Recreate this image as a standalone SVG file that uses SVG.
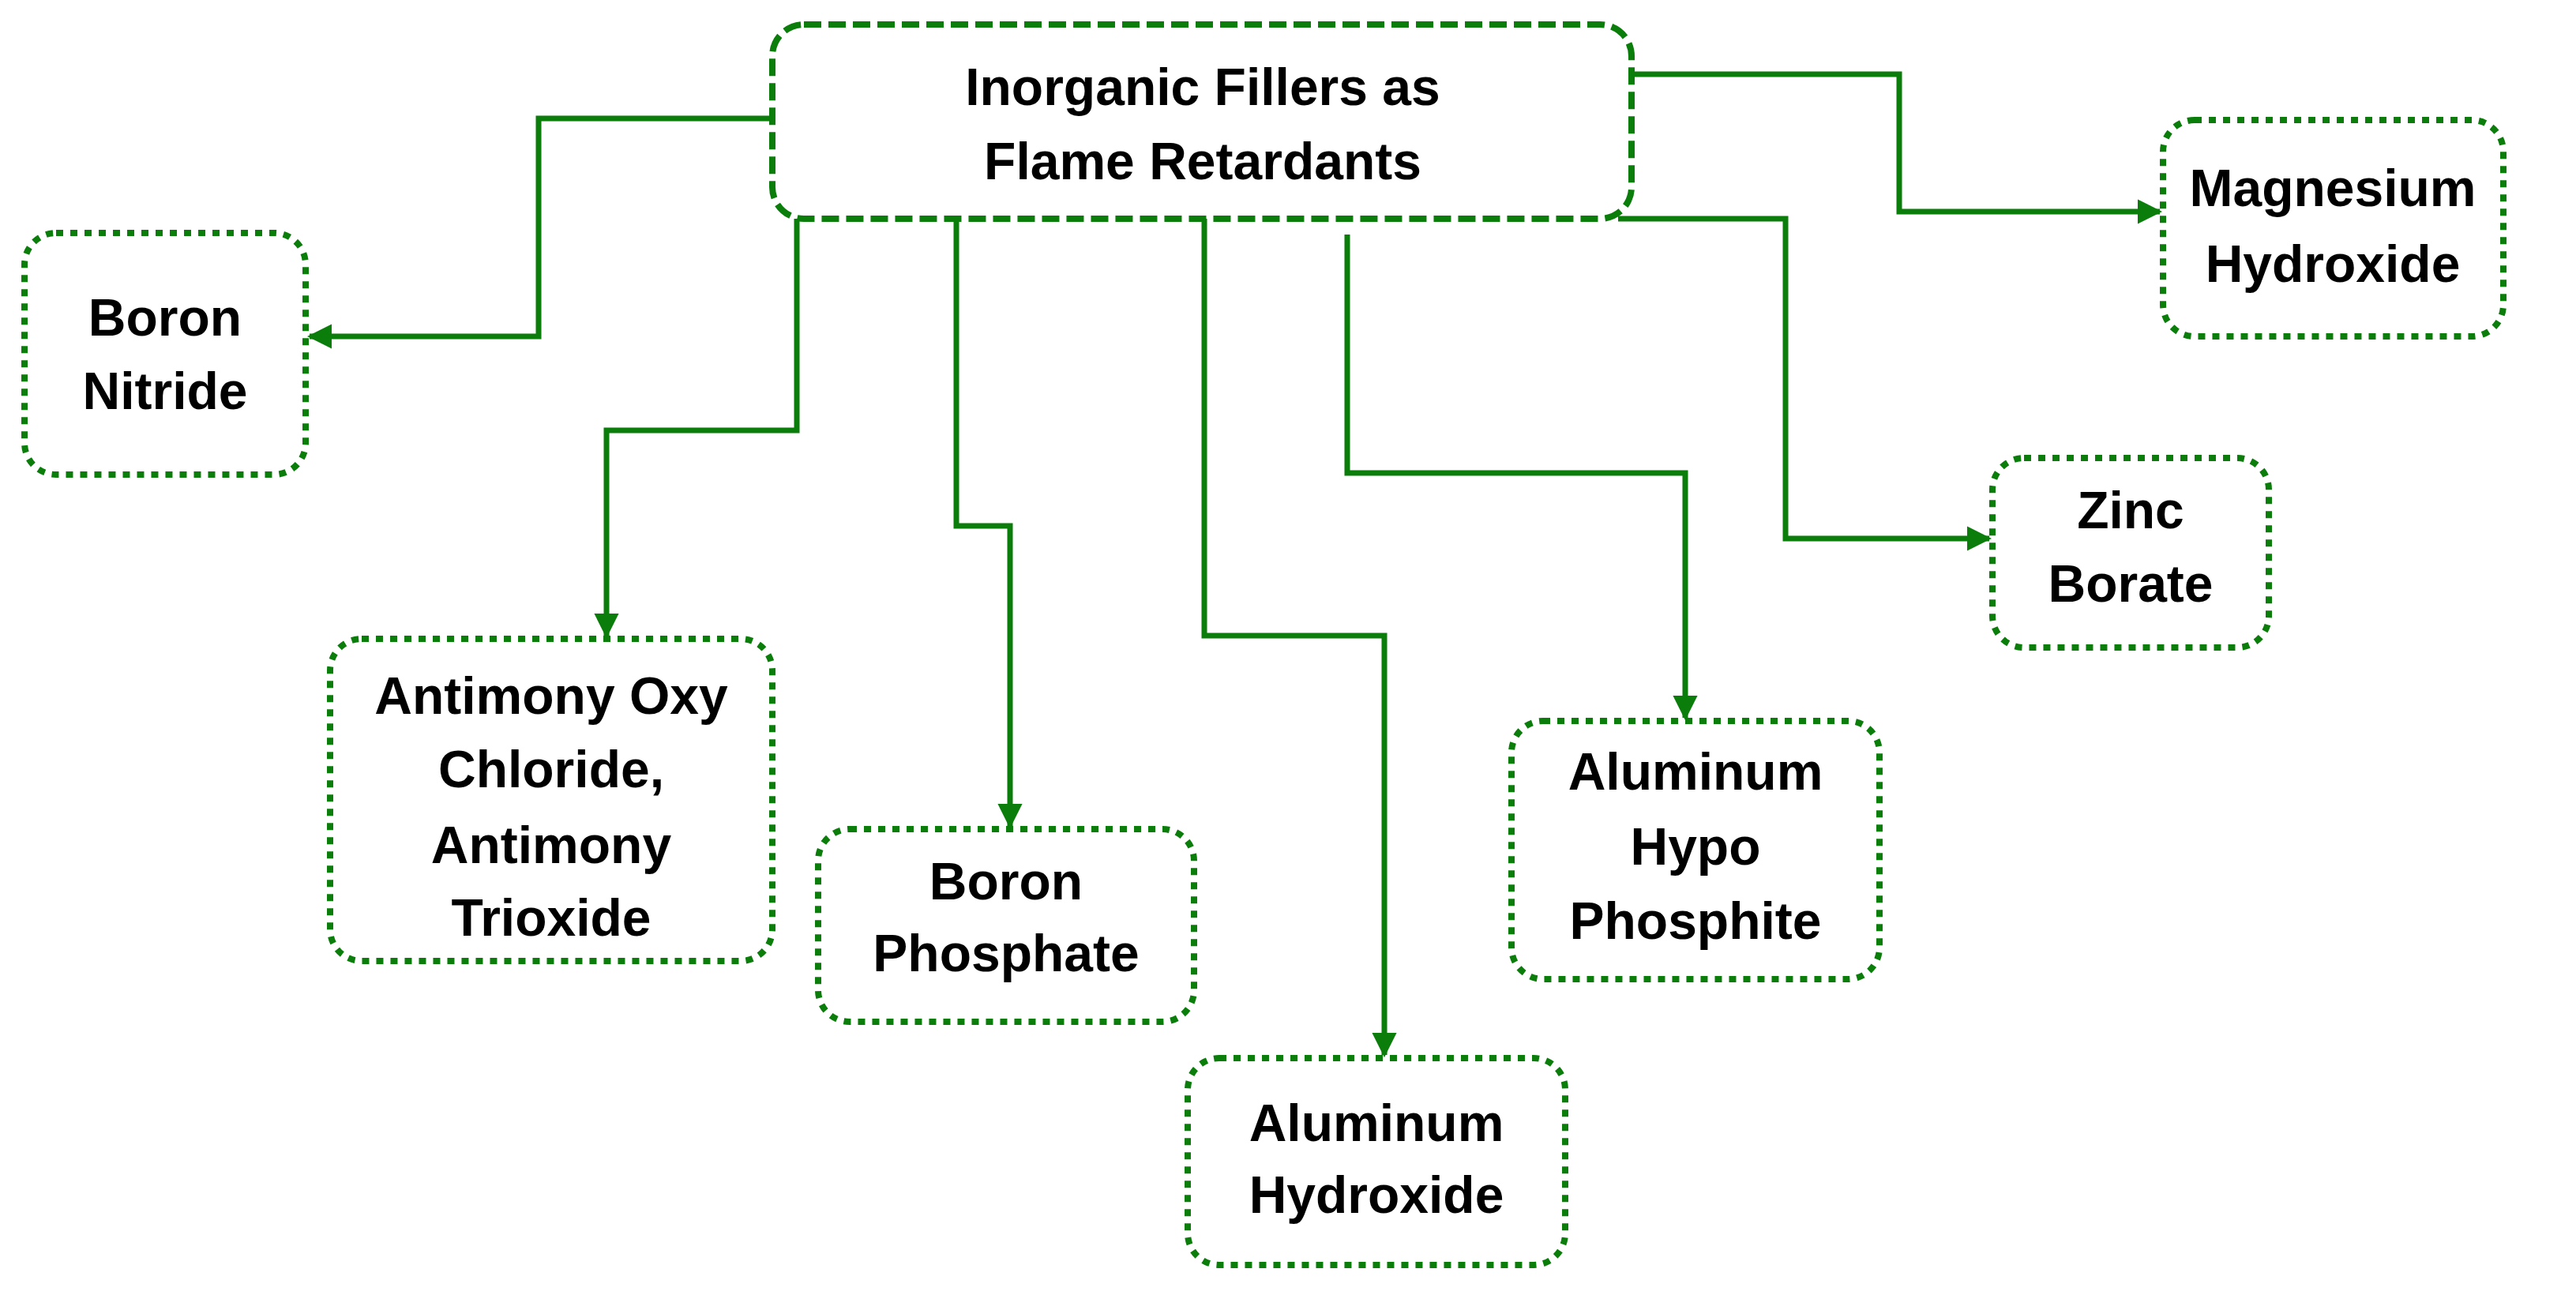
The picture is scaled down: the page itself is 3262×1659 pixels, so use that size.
<svg xmlns="http://www.w3.org/2000/svg" width="3262" height="1659" viewBox="0 0 3262 1659">
<style>
.main{fill:#fff;stroke:#0a7d0a;stroke-width:8;stroke-dasharray:22 9}
.box{fill:#fff;stroke:#0a7d0a;stroke-width:8;stroke-dasharray:9 9}
text{font-family:"Liberation Sans",Arial,sans-serif;font-weight:bold;font-size:66px;fill:#000;text-anchor:middle}
.c{fill:none;stroke:#0a7d0a;stroke-width:7}
</style>
<defs><marker id="a" viewBox="0 0 10 10" refX="9" refY="5" markerWidth="4.5" markerHeight="4.5" orient="auto" markerUnits="strokeWidth"><path d="M0,0L10,5L0,10z" fill="#0a7d0a"/></marker></defs>
<rect width="3262" height="1659" fill="#fff"/>
<g id="connectors">
<path class="c" marker-end="url(#a)" d="M978,150H682V426H392"/>
<path class="c" marker-end="url(#a)" d="M1009,277V545H768V805"/>
<path class="c" marker-end="url(#a)" d="M1211,277V666H1279V1046"/>
<path class="c" marker-end="url(#a)" d="M1525,277V805H1753V1336"/>
<path class="c" marker-end="url(#a)" d="M1706,297V599H2134V909"/>
<path class="c" marker-end="url(#a)" d="M2049,277H2261V682H2519"/>
<path class="c" marker-end="url(#a)" d="M2066,94H2405V268H2735"/>
</g>
<g id="main"><rect class="main" x="978" y="31" width="1088" height="246" rx="40"/><text x="1523" y="133" font-size="70">Inorganic Fillers as</text><text x="1523" y="227" font-size="70">Flame Retardants</text></g>
<g id="boron-nitride"><rect class="box" x="31" y="295" width="356" height="306" rx="40"/><text x="209" y="425">Boron</text><text x="209" y="518">Nitride</text></g>
<g id="magnesium-hydroxide"><rect class="box" x="2739" y="152" width="431" height="274" rx="40"/><text x="2954" y="261">Magnesium</text><text x="2954" y="357">Hydroxide</text></g>
<g id="antimony"><rect class="box" x="418" y="809" width="560" height="408" rx="40"/><text x="698" y="904">Antimony Oxy</text><text x="698" y="997">Chloride,</text><text x="698" y="1093">Antimony</text><text x="698" y="1185">Trioxide</text></g>
<g id="boron-phosphate"><rect class="box" x="1036" y="1050" width="476" height="244" rx="40"/><text x="1274" y="1139">Boron</text><text x="1274" y="1230">Phosphate</text></g>
<g id="aluminum-hydroxide"><rect class="box" x="1504" y="1340" width="478" height="262" rx="40"/><text x="1743" y="1445">Aluminum</text><text x="1743" y="1536">Hydroxide</text></g>
<g id="aluminum-hypophosphite"><rect class="box" x="1914" y="913" width="466" height="327" rx="40"/><text x="2147" y="1000">Aluminum</text><text x="2147" y="1095">Hypo</text><text x="2147" y="1189">Phosphite</text></g>
<g id="zinc-borate"><rect class="box" x="2523" y="580" width="350" height="240" rx="40"/><text x="2698" y="669">Zinc</text><text x="2698" y="762">Borate</text></g>
</svg>
